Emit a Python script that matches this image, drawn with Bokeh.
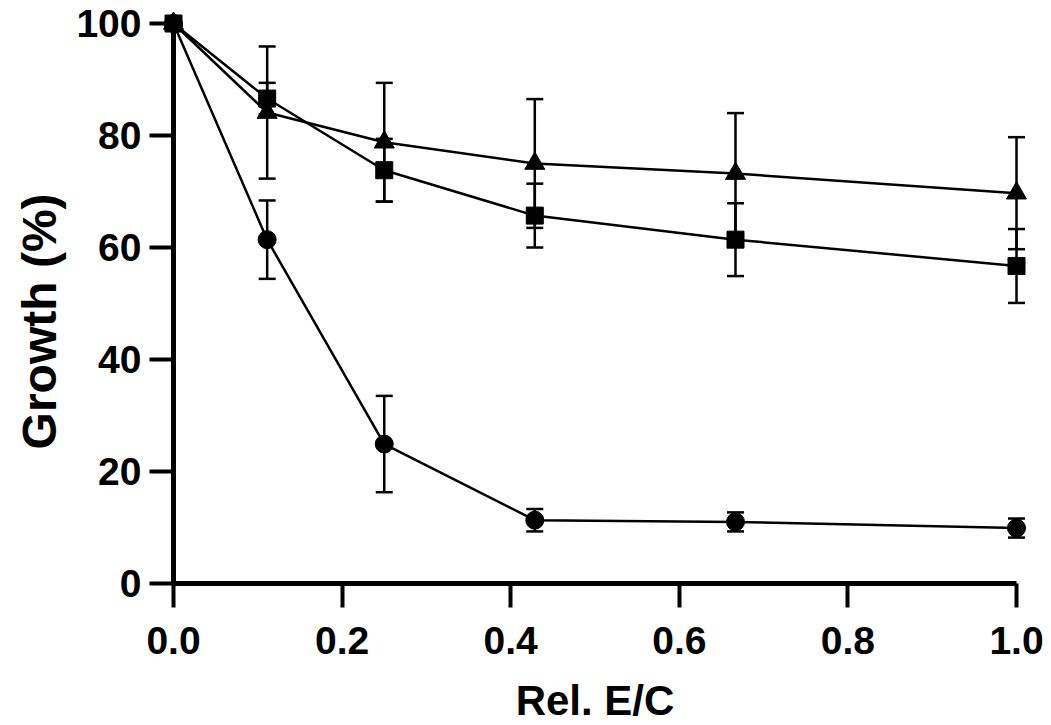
import math
from bokeh.plotting import figure
from bokeh.models import ColumnDataSource, Range1d, FixedTicker
from bokeh.core.properties import value
from bokeh.embed import file_html
from bokeh.resources import INLINE

# ---- data ----
rel_ec = [0.0, 1/9, 0.25, 3/7, 2/3, 1.0]

circle_mean = [100.0, 61.4, 24.9, 11.3, 11.0, 9.9]
circle_err = [0.0, 7.0, 8.6, 2.0, 1.7, 1.7]

square_mean = [100.0, 86.6, 73.8, 65.7, 61.4, 56.7]
square_err = [0.0, 2.8, 5.6, 5.7, 6.5, 6.6]

triangle_mean = [100.0, 84.1, 78.8, 75.0, 73.2, 69.7]
triangle_err = [0.0, 11.8, 10.6, 11.5, 10.8, 10.0]

x_ticks = [0.0, 0.2, 0.4, 0.6, 0.8, 1.0]
y_ticks = [0, 20, 40, 60, 80, 100]

x_title = "Rel. E/C"
y_title = "Growth (%)"

FONT = "Liberation Sans"

p = figure(width=1051, height=725, output_backend="svg", toolbar_location=None,
           x_range=Range1d(0, 1.0), y_range=Range1d(0, 100),
           min_border_left=173, min_border_right=35,
           min_border_top=23, min_border_bottom=142)
p.outline_line_color = None
p.grid.visible = False
p.background_fill_color = "white"
p.border_fill_color = "white"

for ax in (p.xaxis[0], p.yaxis[0]):
    ax.axis_line_width = 5
    ax.axis_line_color = "black"
    ax.major_tick_line_width = 4
    ax.major_tick_line_color = "black"
    ax.major_tick_out = 24
    ax.major_tick_in = 0
    ax.minor_tick_line_color = None
    ax.major_label_text_font = FONT
    ax.major_label_text_font_style = "bold"
    ax.major_label_text_font_size = "39px"
    ax.major_label_text_color = "black"

p.xaxis[0].ticker = FixedTicker(ticks=x_ticks)
p.yaxis[0].ticker = FixedTicker(ticks=y_ticks)
p.xaxis[0].major_label_overrides = {t: f"{t:.1f}" for t in x_ticks}
p.xaxis[0].major_label_standoff = 19
p.yaxis[0].major_label_standoff = 8

# axis titles, drawn as text just outside the frame
xt = p.text(x=[0.5], y=[-20.9], text=[x_title], text_align="center",
            text_baseline="alphabetic", text_font=value(FONT),
            text_font_style="bold", text_font_size="42px", text_color="black")
xt.level = "overlay"
yt = p.text(x=[-0.159], y=[46.8], text=[y_title], angle=math.pi / 2,
            text_align="center", text_baseline="alphabetic",
            text_font=value(FONT), text_font_style="bold",
            text_font_size="48px", text_color="black")
yt.level = "overlay"

series = [
    (circle_mean, circle_err, "circle", 18),
    (square_mean, square_err, "square", 17),
    (triangle_mean, triangle_err, "triangle", 20),
]

for mean, err, marker, size in series:
    src = ColumnDataSource(dict(x=rel_ec, y=mean))
    ln = p.line("x", "y", source=src, line_color="black", line_width=2.5)
    ln.level = "overlay"
    keep = [i for i in range(len(rel_ec)) if err[i] > 0]
    xs = [rel_ec[i] for i in keep]
    lo = [mean[i] - err[i] for i in keep]
    hi = [mean[i] + err[i] for i in keep]
    wsrc = ColumnDataSource(dict(x=xs, lo=lo, hi=hi))
    st = p.segment(x0="x", y0="lo", x1="x", y1="hi", source=wsrc,
                   line_color="black", line_width=2.5)
    st.level = "overlay"
    csrc = ColumnDataSource(dict(x=xs + xs, y=lo + hi))
    cap = p.scatter("x", "y", source=csrc, marker="dash", size=17,
                    line_color="black", line_width=2.5)
    cap.level = "overlay"
    sc = p.scatter("x", "y", source=src, marker=marker, size=size,
                   fill_color="black", line_color="black")
    sc.level = "overlay"

open("out.html", "w").write(file_html(p, INLINE))
